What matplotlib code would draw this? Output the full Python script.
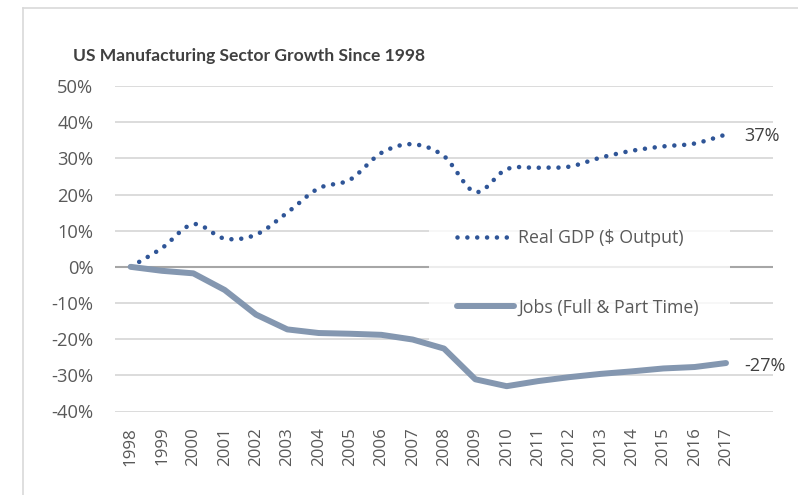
import matplotlib
matplotlib.use("Agg")
import matplotlib.pyplot as plt
from matplotlib.path import Path
from matplotlib.patches import PathPatch, Rectangle
from matplotlib.lines import Line2D
from matplotlib.ticker import FuncFormatter

years = [str(y) for y in range(1998, 2018)]
gdp_growth = [0.0, 5.2, 11.8, 7.8, 8.9, 15.0, 21.7, 24.1, 31.5, 33.9,
              30.6, 20.7, 27.0, 27.4, 27.7, 30.2, 32.1, 33.3, 34.1, 36.6]
jobs_growth = [0.0, -1.1, -1.8, -6.4, -13.2, -17.3, -18.3, -18.5, -18.8, -20.1,
               -22.6, -31.1, -33.0, -31.6, -30.5, -29.6, -28.9, -28.1, -27.7, -26.6]
gdp_label = "Real GDP ($ Output)"
jobs_label = "Jobs (Full & Part Time)"
title = "US Manufacturing Sector Growth Since 1998"

GDP_COLOR = "#2F5597"
JOBS_COLOR = "#8497B0"
TEXT_COLOR = "#595959"
GRID_COLOR = "#D9D9D9"

plt.rcParams["font.family"] = ["Open Sans", "DejaVu Sans"]

fig = plt.figure(figsize=(7.98, 4.95), dpi=100)
ax = fig.add_axes([115 / 798, 1 - 411.5 / 495, 658 / 798, 325.5 / 495])

x = list(range(len(years)))


def smooth_path(xs, ys):
    """Excel-style smoothed line as a chain of cubic Bezier segments."""
    pts = list(zip(xs, ys))
    n = len(pts)
    verts = [pts[0]]
    codes = [Path.MOVETO]
    for i in range(n - 1):
        p0 = pts[i - 1] if i > 0 else pts[i]
        p1 = pts[i]
        p2 = pts[i + 1]
        p3 = pts[i + 2] if i + 2 < n else pts[i + 1]
        c1 = (p1[0] + (p2[0] - p0[0]) / 6, p1[1] + (p2[1] - p0[1]) / 6)
        c2 = (p2[0] - (p3[0] - p1[0]) / 6, p2[1] - (p3[1] - p1[1]) / 6)
        verts += [c1, c2, p2]
        codes += [Path.CURVE4] * 3
    return Path(verts, codes)


dot_style = dict(linestyle=(0, (0.001, 2.15)), linewidth=3.3)

gdp_patch = PathPatch(smooth_path(x, gdp_growth), fill=False, edgecolor=GDP_COLOR,
                      capstyle="round", zorder=4, **dot_style)
ax.add_patch(gdp_patch)

ax.plot(x, jobs_growth, color=JOBS_COLOR, linewidth=4.3,
        solid_capstyle="round", solid_joinstyle="round", zorder=4)

ax.set_xlim(-0.5, 20.5)
ax.set_ylim(-40, 50)
ax.set_yticks(range(-40, 51, 10))
ax.yaxis.set_major_formatter(FuncFormatter(lambda v, _: f"{v:.0f}%"))
ax.set_xticks(x)
ax.set_xticklabels(years, rotation=90)

ax.grid(axis="y", color=GRID_COLOR, linewidth=1.3, zorder=0.5)
ax.set_axisbelow(True)
ax.axhline(0, color="#A6A6A6", linewidth=1.5, zorder=1)
for s in ax.spines.values():
    s.set_visible(False)
ax.tick_params(axis="y", length=0, pad=15.5, labelsize=13.2, labelcolor=TEXT_COLOR)
ax.tick_params(axis="x", length=0, pad=11, labelsize=12.2, labelcolor=TEXT_COLOR)

# end-of-series value labels
ax.annotate(f"{round(gdp_growth[-1]):.0f}%", (x[-1], gdp_growth[-1]),
            xytext=(13, -1), textcoords="offset points", va="center", ha="left",
            fontsize=13, color="#404040")
ax.annotate(f"{round(jobs_growth[-1]):.0f}%", (x[-1], jobs_growth[-1]),
            xytext=(13, -2), textcoords="offset points", va="center", ha="left",
            fontsize=13, color="#404040")

# translucent legend panel
ax.add_patch(Rectangle((0.477, 0.21), 0.458, 0.443, transform=ax.transAxes,
                       facecolor="white", alpha=0.8, edgecolor="none", zorder=2))
handles = [Line2D([], [], color=GDP_COLOR, dash_capstyle="round", **dot_style),
           Line2D([], [], color=JOBS_COLOR, linewidth=4.3, solid_capstyle="round")]
leg = ax.legend(handles, [gdp_label, jobs_label], loc="center left",
                bbox_to_anchor=(0.52, 0.427), frameon=False, fontsize=12.8,
                labelcolor=TEXT_COLOR, handlelength=3.2, handletextpad=0.25,
                labelspacing=2.9, borderpad=0, borderaxespad=0)
leg.set_zorder(3)

fig.text(73 / 798, 1 - 56 / 495, title, fontsize=12.6, fontweight="bold",
         color="#404040", va="center", ha="left",
         family=["Lato", "DejaVu Sans"])

# chart-area border
fig.add_artist(Line2D([23 / 798, 1.0], [1 - 8 / 495, 1 - 8 / 495],
                      color=GRID_COLOR, linewidth=1.2, transform=fig.transFigure))
fig.add_artist(Line2D([23 / 798, 23 / 798], [0, 1 - 8 / 495],
                      color=GRID_COLOR, linewidth=1.2, transform=fig.transFigure))

fig.savefig("out.png", dpi=100, facecolor="white")
